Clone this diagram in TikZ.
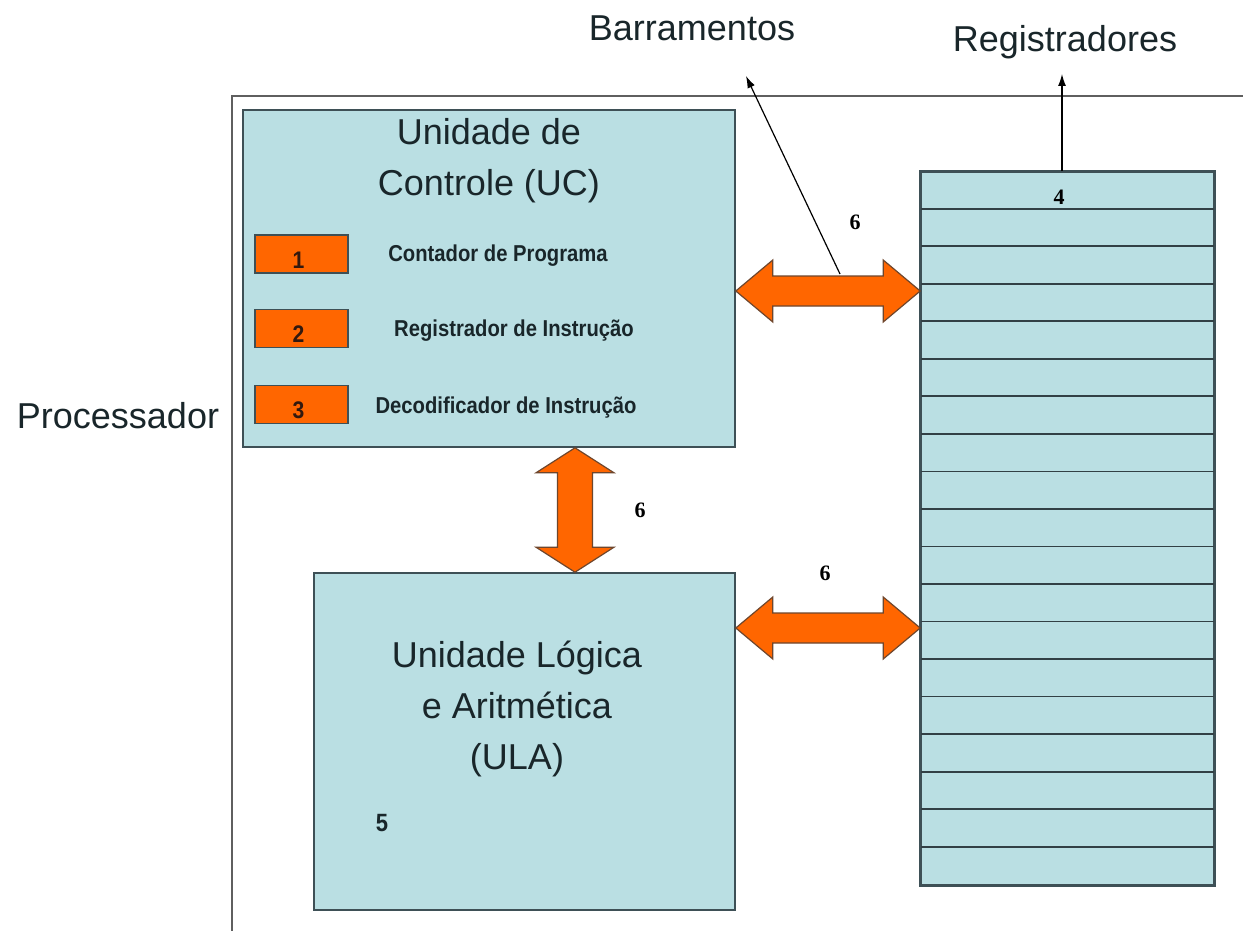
\documentclass[tikz,border=0pt]{standalone}
\usepackage{fontspec}
\setmainfont{Liberation Sans}
\newfontfamily\serifb{Liberation Serif}
\usetikzlibrary{calc,arrows.meta}
\definecolor{boxfill}{RGB}{186,223,227}
\definecolor{boxline}{RGB}{62,80,86}
\definecolor{busfill}{RGB}{255,102,0}
\definecolor{busline}{RGB}{110,70,45}
\definecolor{ink}{RGB}{25,38,42}
\definecolor{digitink}{RGB}{50,25,15}
\definecolor{frame}{RGB}{95,95,95}
\newcommand{\narrow}[1]{\scalebox{0.88}[1]{#1}}
\begin{document}
\begin{tikzpicture}[x=1pt,y=-1pt,
  unit/.style={draw=boxline,fill=boxfill,line width=1.6pt,inner sep=0pt},
  regbox/.style={draw=boxline,fill=busfill,line width=1.4pt,inner sep=0pt,
    minimum width=93pt,minimum height=38pt},
  digit/.style={text=digitink,inner sep=0pt,font=\fontsize{24}{28}\selectfont\bfseries},
  bigtext/.style={text=ink,align=center,font=\fontsize{36}{51}\selectfont},
  outtext/.style={text=ink,font=\fontsize{36}{42}\selectfont},
  lbl/.style={text=ink,font=\fontsize{23}{26}\selectfont\bfseries},
  num/.style={text=black,font=\fontsize{22}{26}\selectfont\serifb\bfseries},
  rowline/.style={draw=boxline!80!black,line width=1.8pt},
  bus/.style={draw=busline,fill=busfill,line width=1.2pt,line join=miter},
  ptr/.style={draw=black,line width=1.2pt,-{Latex[length=12pt,width=8pt]}}]
\useasboundingbox (0,0) rectangle (1243,931);
\fill[white] (0,0) rectangle (1243,931);

% processor frame
\draw[frame,line width=1.4pt] (232,931) -- (232,96) -- (1243,96);
\node[outtext] (proc) at (118,416) {Processador};

% control unit
\node[unit,minimum width=492pt,minimum height=337pt] (uc) at (489,278.5) {};
\node[bigtext] (uctitle) at (489,161) {Unidade de\\Controle (UC)};
\node[regbox] (b1) at (301.5,254) {};
\node[regbox] (b2) at (301.5,328.5) {};
\node[regbox] (b3) at (301.5,404.5) {};
\node[digit] (d1) at ([xshift=-3pt,yshift=-6pt]b1.center) {\narrow{1}};
\node[digit] (d2) at ([xshift=-3pt,yshift=-6pt]b2.center) {\narrow{2}};
\node[digit] (d3) at ([xshift=-3pt,yshift=-6pt]b3.center) {\narrow{3}};
\node[lbl] (l1) at (498,256) {\narrow{Contador de Programa}};
\node[lbl] (l2) at (514,331) {\narrow{Registrador de Instrução}};
\node[lbl] (l3) at (506,408) {\narrow{Decodificador de Instrução}};

% ALU
\node[unit,minimum width=421pt,minimum height=337pt] (ula) at (524.5,741.5) {};
\node[bigtext] (ulatitle) at (517,709) {Unidade Lógica\\e Aritmética\\(ULA)};
\node[text=ink,font=\fontsize{25}{28}\selectfont\bfseries] (n5) at (382,823) {\narrow{5}};

% register file
\node[unit,minimum width=293pt,minimum height=713pt] (reg) at (1067.5,528.5) {};
\foreach \k in {1,...,18}
  \draw[rowline] ($(reg.north west)+(0,\k*37.526)$) -- ($(reg.north east)+(0,\k*37.526)$);
\draw[boxline,line width=1.6pt] (reg.north west) rectangle (reg.south east);
\node[num] (n4) at (1059,197) {4};

% buses
\coordinate (y1) at (0,291);
\coordinate (y2) at (0,628);
\coordinate (x3) at (575,0);
\coordinate (a1) at (uc.east |- y1);
\coordinate (b1e) at (reg.west |- y1);
\coordinate (a2) at (ula.east |- y2);
\coordinate (b2e) at (reg.west |- y2);
\coordinate (a3) at (uc.south -| x3);
\coordinate (b3e) at (ula.north -| x3);

\draw[bus] (a1) -- +(37,-31) -- +(37,-15) -- ([shift={(-37,-15)}]b1e) -- ([shift={(-37,-31)}]b1e) -- (b1e)
  -- ([shift={(-37,31)}]b1e) -- ([shift={(-37,15)}]b1e) -- ([shift={(37,15)}]a1) -- ([shift={(37,31)}]a1) -- cycle;
\draw[bus] (a2) -- +(37,-31) -- +(37,-15) -- ([shift={(-37,-15)}]b2e) -- ([shift={(-37,-31)}]b2e) -- (b2e)
  -- ([shift={(-37,31)}]b2e) -- ([shift={(-37,15)}]b2e) -- ([shift={(37,15)}]a2) -- ([shift={(37,31)}]a2) -- cycle;
\draw[bus] (a3) -- +(39,25) -- +(17.5,25) -- ([shift={(17.5,-25)}]b3e) -- ([shift={(39,-25)}]b3e) -- (b3e)
  -- ([shift={(-39,-25)}]b3e) -- ([shift={(-17.5,-25)}]b3e) -- ([shift={(-17.5,25)}]a3) -- ([shift={(-39,25)}]a3) -- cycle;

\node[num] (s1) at (855,222) {6};
\node[num] (s2) at (640,510) {6};
\node[num] (s3) at (825,573) {6};

% outside labels
\node[outtext] (barr) at (692,28) {Barramentos};
\node[outtext] (regt) at (1065,42) {Registradores};
\coordinate (barrtail) at (840,274);
\coordinate (barrtip) at (746,76);
\draw[ptr] (barrtail) -- (barrtip);
\coordinate (regx) at (1062,0);
\coordinate (regtip) at (1062,74);
\draw[ptr] (reg.north -| regx) -- (regtip);
\end{tikzpicture}
\end{document}
